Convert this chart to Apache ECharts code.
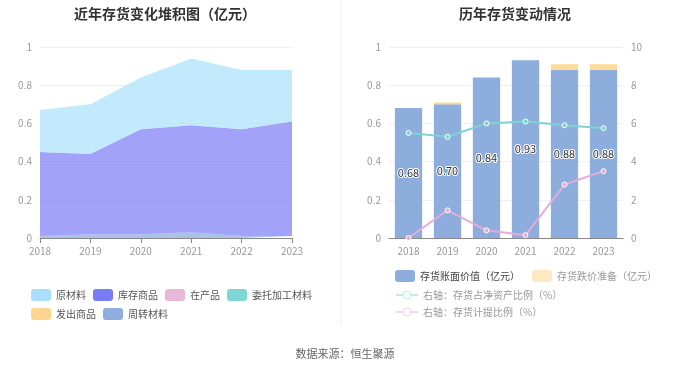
<!DOCTYPE html>
<html><head><meta charset="utf-8">
<script src="https://cdn.jsdelivr.net/npm/echarts@6/dist/echarts.min.js"></script>
<style>html,body{margin:0;padding:0;background:#fff}#c{width:680px;height:367px}</style>
</head><body><div id="c"></div>
<script>
var years = ['2018','2019','2020','2021','2022','2023'];
// left stacked area (亿元)
var yuancailiao = [0.22,0.26,0.27,0.35,0.31,0.27];
var kucunshangpin = [0.44,0.42,0.55,0.56,0.56,0.60];
var zaichanpin = [0,0,0,0,0,0];
var weituojiagong = [0,0,0,0,0,0];
var fachushangpin = [0,0,0,0,0,0];
var zhouzhuancailiao = [0.01,0.02,0.02,0.03,0.01,0.01];
// right chart
var bookValue = [0.68,0.70,0.84,0.93,0.88,0.88];
var impairment = [0,0.01,0,0,0.03,0.03];
var ratioNetAsset = [5.5,5.3,6.0,6.1,5.9,5.75];
var provisionRatio = [0,1.45,0.4,0.15,2.8,3.5];
var leftTicks = [0,0.2,0.4,0.6,0.8,1];
var rightTicks = [0,2,4,6,8,10];

var font = 'Noto Sans CJK SC';
var axisLbl = {color:'#999',fontSize:10,fontFamily:font};
function area(name,data,color,opacity){
  return {name:name,type:'line',stack:'a',data:data,xAxisIndex:0,yAxisIndex:0,
    symbol:'none',lineStyle:{width:0},itemStyle:{color:color},
    areaStyle:{color:color,opacity:opacity},smooth:false};
}
var chart = echarts.init(document.getElementById('c'));
chart.setOption({
  animation:false,
  textStyle:{fontFamily:font},
  title:[
    {text:'近年存货变化堆积图（亿元）',left:160,top:2,textAlign:'center',textStyle:{fontSize:14,fontWeight:'bold',color:'#333',fontFamily:font}},
    {text:'历年存货变动情况',left:510,top:2,textAlign:'center',textStyle:{fontSize:14,fontWeight:'bold',color:'#333',fontFamily:font}},
    {text:'数据来源：恒生聚源',left:340,top:343,textAlign:'center',textStyle:{fontSize:11,fontWeight:'normal',color:'#666',fontFamily:font}}
  ],
  graphic:[{type:'line',shape:{x1:341,y1:0,x2:341,y2:325},style:{stroke:'#eee',lineWidth:1}}],
  legend:[
    {left:26,top:284,width:300,icon:'roundRect',itemWidth:20,itemHeight:12,itemGap:7,padding:[5,5,5,5],
     textStyle:{fontSize:10,color:'#555',fontFamily:font},
     data:['原材料','库存商品','在产品','委托加工材料','发出商品','周转材料']},
    {left:390,top:265,width:290,orient:'horizontal',icon:'roundRect',itemWidth:20,itemHeight:12,itemGap:12,
     data:[{name:'存货账面价值（亿元）',textStyle:{color:'#444'}},{name:'存货跌价准备（亿元）',textStyle:{color:'#999'},itemStyle:{color:'#ffe8c4'}}],
     textStyle:{fontSize:10,fontFamily:font}},
    {left:390,top:285,orient:'vertical',itemWidth:22,itemHeight:10,itemGap:7,
     data:[
       {name:'右轴：存货占净资产比例（%）',itemStyle:{color:'#fff',borderColor:'#bfeceb',borderWidth:1},lineStyle:{color:'#bfeceb'}},
       {name:'右轴：存货计提比例（%）',itemStyle:{color:'#fff',borderColor:'#f3d6ec',borderWidth:1},lineStyle:{color:'#f3d6ec'}}],
     textStyle:{fontSize:10,color:'#999',fontFamily:font}}
  ],
  grid:[
    {left:40,right:388,top:47,bottom:129},
    {left:389,right:57,top:47,bottom:129}
  ],
  xAxis:[
    {type:'category',gridIndex:0,data:years,boundaryGap:false,
     axisLine:{lineStyle:{color:'#888'}},axisTick:{show:true,lineStyle:{color:'#888'}},
     axisLabel:axisLbl},
    {type:'category',gridIndex:1,data:years,boundaryGap:true,
     axisLine:{lineStyle:{color:'#888'}},axisTick:{show:false},axisLabel:axisLbl}
  ],
  yAxis:[
    {type:'value',gridIndex:0,min:0,max:1,interval:0.2,
     axisLabel:Object.assign({},axisLbl,{formatter:function(v){return String(Math.round(v*10)/10);}}),
     axisLine:{show:false},axisTick:{show:false},splitLine:{lineStyle:{color:'#eef0f8'}}},
    {type:'value',gridIndex:1,min:0,max:1,interval:0.2,
     axisLabel:Object.assign({},axisLbl,{formatter:function(v){return String(Math.round(v*10)/10);}}),
     axisLine:{show:false},axisTick:{show:false},splitLine:{lineStyle:{color:'#eef0f8'}}},
    {type:'value',gridIndex:1,min:0,max:10,interval:2,position:'right',
     axisLabel:Object.assign({},axisLbl,{formatter:function(v){return rightTicks.indexOf(v)>=0?String(v):'';}}),
     axisLine:{show:false},axisTick:{show:false},splitLine:{show:false}}
  ],
  series:[
    area('周转材料',zhouzhuancailiao,'#8eaedd',0.75),
    area('发出商品',fachushangpin,'#ffd690',0.75),
    area('委托加工材料',weituojiagong,'#7ed6d6',0.75),
    area('在产品',zaichanpin,'#e8b8d8',0.75),
    area('库存商品',kucunshangpin,'#7a7cf5',0.7),
    area('原材料',yuancailiao,'#a8e0fb',0.7),
    {name:'存货账面价值（亿元）',type:'bar',stack:'b',xAxisIndex:1,yAxisIndex:1,data:bookValue,barWidth:'70%',
     itemStyle:{color:'#8daddc'},
     label:{show:true,position:'inside',formatter:function(p){return p.value.toFixed(2);},
       color:'#333',fontSize:11,textBorderColor:'#fff',textBorderWidth:2,fontFamily:font}},
    {name:'存货跌价准备（亿元）',type:'bar',stack:'b',xAxisIndex:1,yAxisIndex:1,data:impairment,barWidth:'70%',
     itemStyle:{color:'#ffdb99'}},
    {name:'右轴：存货占净资产比例（%）',type:'line',xAxisIndex:1,yAxisIndex:2,data:ratioNetAsset,
     symbol:'circle',symbolSize:5,itemStyle:{color:'#7dd4d2',borderColor:'#fff',borderWidth:1},lineStyle:{color:'#7dd4d2',width:2}},
    {name:'右轴：存货计提比例（%）',type:'line',xAxisIndex:1,yAxisIndex:2,data:provisionRatio,
     symbol:'circle',symbolSize:5,itemStyle:{color:'#e4acd8',borderColor:'#fff',borderWidth:1},lineStyle:{color:'#e4acd8',width:2}}
  ]
});
</script></body></html>
